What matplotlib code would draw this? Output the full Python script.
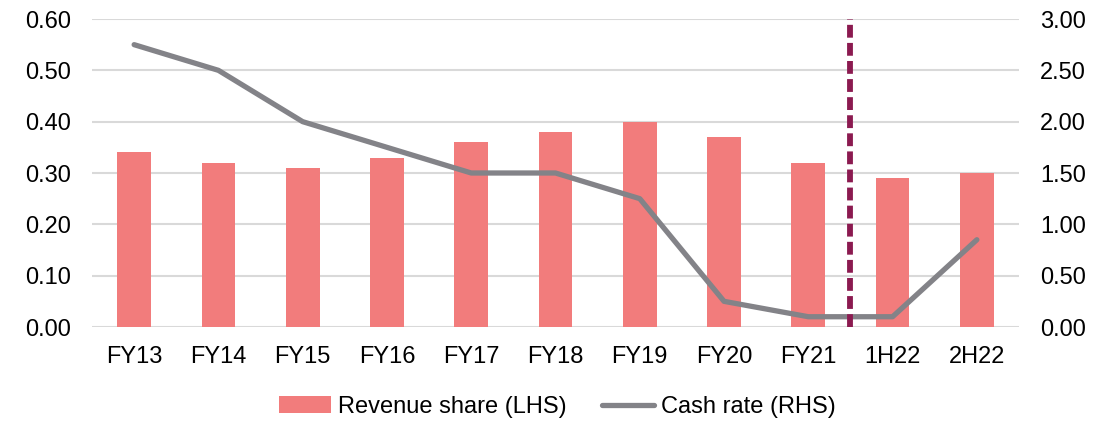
import matplotlib.pyplot as plt
import numpy as np

plt.rcParams['font.family'] = ['Liberation Sans', 'DejaVu Sans']

categories = ["FY13", "FY14", "FY15", "FY16", "FY17", "FY18", "FY19", "FY20", "FY21", "1H22", "2H22"]
revenue_share = [0.34, 0.32, 0.31, 0.33, 0.36, 0.38, 0.40, 0.37, 0.32, 0.29, 0.30]
cash_rate = [2.75, 2.50, 2.00, 1.75, 1.50, 1.50, 1.25, 0.25, 0.10, 0.10, 0.85]
divider_after = "FY21"

bar_color = "#F27C7C"
line_color = "#838388"
grid_color = "#D9D9D9"

fig = plt.figure(figsize=(11.14, 4.21), dpi=100)
ax = fig.add_axes([92 / 1114, 1 - 327 / 421, (1019 - 92) / 1114, (327 - 19) / 421])
ax2 = ax.twinx()

x = np.arange(len(categories))
ax.bar(x, revenue_share, width=0.4, color=bar_color, label="Revenue share (LHS)", zorder=2)
ax2.plot(x, cash_rate, color=line_color, lw=3.8, solid_capstyle="round", label="Cash rate (RHS)", zorder=3)

xd = categories.index(divider_after) + 0.5
ax2.axvline(xd, ymin=0, ymax=1, color="#8B1A50", lw=4.2, linestyle=(0, (2.2, 0.9)), zorder=4)

ax.set_xlim(-0.5, len(categories) - 0.5)
ax.set_ylim(0, 0.6)
ax2.set_ylim(0, 3.0)
ax.set_yticks(np.arange(0, 0.61, 0.1))
ax2.set_yticks(np.arange(0, 3.01, 0.5))
ax.set_yticklabels([f"{v:.2f}" for v in np.arange(0, 0.61, 0.1)])
ax2.set_yticklabels([f"{v:.2f}" for v in np.arange(0, 3.01, 0.5)])
ax.set_xticks(x, categories)

ax.yaxis.grid(True, color=grid_color, lw=1.5, zorder=0)
ax.set_axisbelow(True)
for a in (ax, ax2):
    for s in a.spines.values():
        s.set_visible(False)
    a.tick_params(length=0, labelsize=17, colors="#000000")
ax.tick_params(axis="y", pad=15)
ax2.tick_params(axis="y", pad=15)
ax.tick_params(axis="x", pad=14)

h1, l1 = ax.get_legend_handles_labels()
h2, l2 = ax2.get_legend_handles_labels()
fig.legend(h1 + h2, l1 + l2, loc="center", bbox_to_anchor=(0.5, 1 - 407 / 421), ncol=2,
           frameon=False, fontsize=17, handlelength=2.2, handletextpad=0.3, columnspacing=1.5)

fig.savefig("out.png", dpi=100)
